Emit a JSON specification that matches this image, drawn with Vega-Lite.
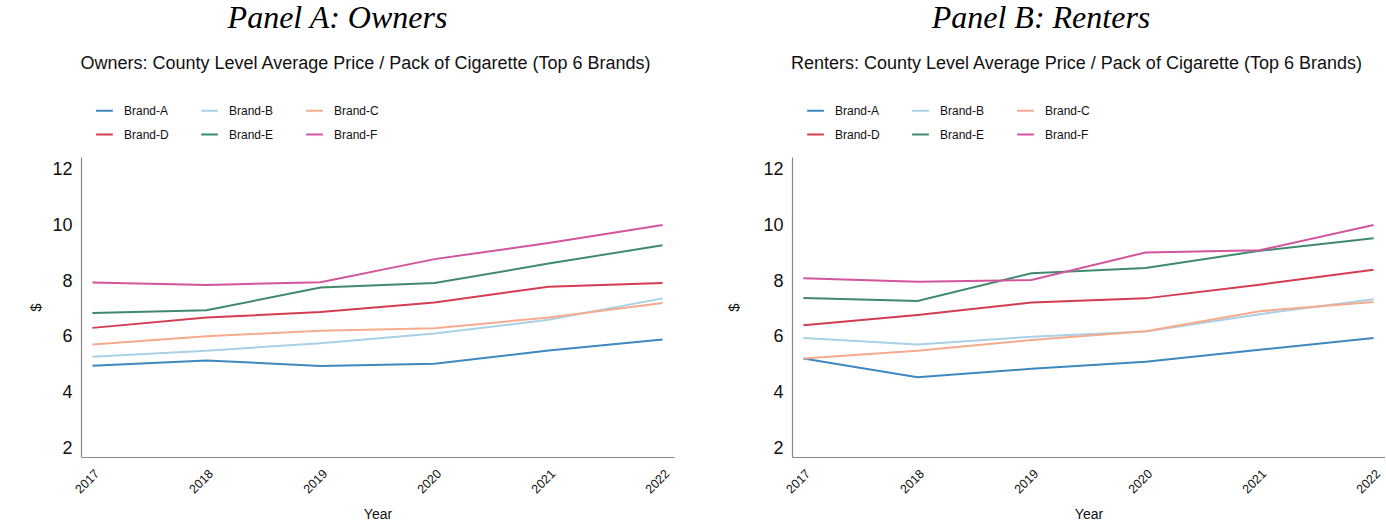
{
  "$schema": "https://vega.github.io/schema/vega-lite/v6.json",
  "background": "white",
  "padding": {"left": 28, "top": 2, "right": 0, "bottom": 2},
  "datasets": {
    "owners": [
      {"year": 2017, "brand": "Brand-A", "price": 4.96},
      {"year": 2018, "brand": "Brand-A", "price": 5.15},
      {"year": 2019, "brand": "Brand-A", "price": 4.95},
      {"year": 2020, "brand": "Brand-A", "price": 5.03},
      {"year": 2021, "brand": "Brand-A", "price": 5.51},
      {"year": 2022, "brand": "Brand-A", "price": 5.90},
      {"year": 2017, "brand": "Brand-B", "price": 5.28},
      {"year": 2018, "brand": "Brand-B", "price": 5.50},
      {"year": 2019, "brand": "Brand-B", "price": 5.77},
      {"year": 2020, "brand": "Brand-B", "price": 6.12},
      {"year": 2021, "brand": "Brand-B", "price": 6.61},
      {"year": 2022, "brand": "Brand-B", "price": 7.38},
      {"year": 2017, "brand": "Brand-C", "price": 5.72},
      {"year": 2018, "brand": "Brand-C", "price": 6.02},
      {"year": 2019, "brand": "Brand-C", "price": 6.22},
      {"year": 2020, "brand": "Brand-C", "price": 6.31},
      {"year": 2021, "brand": "Brand-C", "price": 6.69},
      {"year": 2022, "brand": "Brand-C", "price": 7.21},
      {"year": 2017, "brand": "Brand-D", "price": 6.32},
      {"year": 2018, "brand": "Brand-D", "price": 6.69},
      {"year": 2019, "brand": "Brand-D", "price": 6.89},
      {"year": 2020, "brand": "Brand-D", "price": 7.23},
      {"year": 2021, "brand": "Brand-D", "price": 7.80},
      {"year": 2022, "brand": "Brand-D", "price": 7.93},
      {"year": 2017, "brand": "Brand-E", "price": 6.85},
      {"year": 2018, "brand": "Brand-E", "price": 6.95},
      {"year": 2019, "brand": "Brand-E", "price": 7.77},
      {"year": 2020, "brand": "Brand-E", "price": 7.93},
      {"year": 2021, "brand": "Brand-E", "price": 8.63},
      {"year": 2022, "brand": "Brand-E", "price": 9.29},
      {"year": 2017, "brand": "Brand-F", "price": 7.95},
      {"year": 2018, "brand": "Brand-F", "price": 7.86},
      {"year": 2019, "brand": "Brand-F", "price": 7.96},
      {"year": 2020, "brand": "Brand-F", "price": 8.79},
      {"year": 2021, "brand": "Brand-F", "price": 9.37},
      {"year": 2022, "brand": "Brand-F", "price": 10.02}
    ],
    "renters": [
      {"year": 2017, "brand": "Brand-A", "price": 5.22},
      {"year": 2018, "brand": "Brand-A", "price": 4.55},
      {"year": 2019, "brand": "Brand-A", "price": 4.85},
      {"year": 2020, "brand": "Brand-A", "price": 5.10},
      {"year": 2021, "brand": "Brand-A", "price": 5.53},
      {"year": 2022, "brand": "Brand-A", "price": 5.96},
      {"year": 2017, "brand": "Brand-B", "price": 5.96},
      {"year": 2018, "brand": "Brand-B", "price": 5.72},
      {"year": 2019, "brand": "Brand-B", "price": 6.00},
      {"year": 2020, "brand": "Brand-B", "price": 6.19},
      {"year": 2021, "brand": "Brand-B", "price": 6.81},
      {"year": 2022, "brand": "Brand-B", "price": 7.35},
      {"year": 2017, "brand": "Brand-C", "price": 5.22},
      {"year": 2018, "brand": "Brand-C", "price": 5.50},
      {"year": 2019, "brand": "Brand-C", "price": 5.88},
      {"year": 2020, "brand": "Brand-C", "price": 6.20},
      {"year": 2021, "brand": "Brand-C", "price": 6.92},
      {"year": 2022, "brand": "Brand-C", "price": 7.25},
      {"year": 2017, "brand": "Brand-D", "price": 6.41},
      {"year": 2018, "brand": "Brand-D", "price": 6.78},
      {"year": 2019, "brand": "Brand-D", "price": 7.23},
      {"year": 2020, "brand": "Brand-D", "price": 7.38},
      {"year": 2021, "brand": "Brand-D", "price": 7.87},
      {"year": 2022, "brand": "Brand-D", "price": 8.41},
      {"year": 2017, "brand": "Brand-E", "price": 7.39},
      {"year": 2018, "brand": "Brand-E", "price": 7.29},
      {"year": 2019, "brand": "Brand-E", "price": 8.28},
      {"year": 2020, "brand": "Brand-E", "price": 8.47},
      {"year": 2021, "brand": "Brand-E", "price": 9.09},
      {"year": 2022, "brand": "Brand-E", "price": 9.54},
      {"year": 2017, "brand": "Brand-F", "price": 8.10},
      {"year": 2018, "brand": "Brand-F", "price": 7.98},
      {"year": 2019, "brand": "Brand-F", "price": 8.04},
      {"year": 2020, "brand": "Brand-F", "price": 9.03},
      {"year": 2021, "brand": "Brand-F", "price": 9.11},
      {"year": 2022, "brand": "Brand-F", "price": 10.02}
    ]
  },
  "spacing": 52,
  "hconcat": [
    {
      "title": {"text": "Panel A: Owners", "font": "Liberation Serif", "fontStyle": "italic", "fontSize": 32, "color": "#000", "frame": "bounds", "anchor": "middle", "dx": -14, "offset": 20},
      "vconcat": [
        {
          "title": {"text": "Owners: County Level Average Price / Pack of Cigarette (Top 6 Brands)", "dx": -12},
          "width": 593,
          "height": 300,
          "data": {"name": "owners"},
          "mark": {"type": "line", "strokeWidth": 2},
          "encoding": {
            "x": {"field": "year", "type": "quantitative", "scale": {"domain": [2016.9, 2022.1], "nice": false, "zero": false}, "axis": {"title": "Year", "values": [2017, 2018, 2019, 2020, 2021, 2022], "format": "d", "labelAngle": -45}},
            "y": {"field": "price", "type": "quantitative", "scale": {"domain": [1.68, 12.46], "nice": false, "zero": false}, "axis": {"title": "$", "values": [2, 4, 6, 8, 10, 12], "titlePadding": 8}},
            "color": {"field": "brand", "type": "nominal", "scale": {"domain": ["Brand-A", "Brand-B", "Brand-C", "Brand-D", "Brand-E", "Brand-F"], "range": ["#3d89bf", "#a8d0e6", "#f6ab8e", "#d43d51", "#3f8a6f", "#d2559e"]}, "legend": {"title": null}}
          }
        }
      ]
    },
    {
      "title": {"text": "Panel B: Renters", "font": "Liberation Serif", "fontStyle": "italic", "fontSize": 32, "color": "#000", "frame": "bounds", "anchor": "middle", "dx": -15, "offset": 20},
      "vconcat": [
        {
          "title": {"text": "Renters: County Level Average Price / Pack of Cigarette (Top 6 Brands)", "dx": -12},
          "width": 593,
          "height": 300,
          "data": {"name": "renters"},
          "mark": {"type": "line", "strokeWidth": 2},
          "encoding": {
            "x": {"field": "year", "type": "quantitative", "scale": {"domain": [2016.9, 2022.1], "nice": false, "zero": false}, "axis": {"title": "Year", "values": [2017, 2018, 2019, 2020, 2021, 2022], "format": "d", "labelAngle": -45}},
            "y": {"field": "price", "type": "quantitative", "scale": {"domain": [1.68, 12.46], "nice": false, "zero": false}, "axis": {"title": "$", "values": [2, 4, 6, 8, 10, 12], "titlePadding": 21}},
            "color": {"field": "brand", "type": "nominal", "scale": {"domain": ["Brand-A", "Brand-B", "Brand-C", "Brand-D", "Brand-E", "Brand-F"], "range": ["#3d89bf", "#a8d0e6", "#f6ab8e", "#d43d51", "#3f8a6f", "#d2559e"]}, "legend": {"title": null}}
          }
        }
      ]
    }
  ],
  "resolve": {"scale": {"color": "independent"}, "legend": {"color": "independent"}},
  "config": {
    "font": "Liberation Sans",
    "view": {"stroke": null},
    "axis": {"grid": false, "ticks": false, "domainColor": "#8a8a8a", "domainWidth": 1.2, "labelColor": "#111", "titleColor": "#111", "titleFontWeight": "normal", "labelFont": "Liberation Sans", "titleFont": "Liberation Sans"},
    "axisX": {"labelFontSize": 12.5, "labelPadding": 10, "titleFontSize": 14, "titlePadding": 12},
    "axisY": {"labelFontSize": 18, "labelPadding": 9, "titleFontSize": 15},
    "legend": {"orient": "none", "legendX": 14, "legendY": -56, "direction": "horizontal", "columns": 3, "symbolType": "stroke", "symbolStrokeWidth": 2, "symbolSize": 280, "labelFontSize": 12, "labelColor": "#111", "labelFont": "Liberation Sans", "columnPadding": 28, "rowPadding": 8, "padding": 0, "labelOffset": 10},
    "title": {"font": "Liberation Sans", "fontSize": 18, "fontWeight": "normal", "color": "#111", "anchor": "middle", "frame": "group", "offset": 84},
    "concat": {"spacing": 52}
  }
}
